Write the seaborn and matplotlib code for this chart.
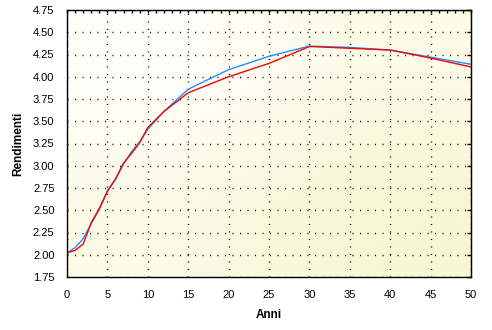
import numpy as np
import pandas as pd
import matplotlib
matplotlib.use("Agg")
import matplotlib.pyplot as plt
import seaborn as sns

# ---- data ----
anni = [0, 1, 2, 3, 4, 5, 6, 7, 8, 9, 10, 12, 15, 20, 25, 30, 35, 40, 45, 50]
rend_rossa = [2.02, 2.05, 2.12, 2.36, 2.52, 2.71, 2.85, 3.03, 3.14, 3.26, 3.43,
              3.61, 3.82, 4.00, 4.15, 4.34, 4.32, 4.30, 4.21, 4.11]
rend_blu = [2.02, 2.08, 2.18, 2.35, 2.51, 2.72, 2.85, 3.02, 3.16, 3.27, 3.41,
            3.61, 3.86, 4.08, 4.23, 4.345, 4.33, 4.30, 4.22, 4.14]
serie = ["blu", "rossa"]
colori = {"blu": "#1E90FF", "rossa": "#FF0000"}
xticks = list(range(0, 51, 5))
yticks = [1.75, 2.00, 2.25, 2.50, 2.75, 3.00, 3.25, 3.50, 3.75, 4.00, 4.25, 4.50, 4.75]

df = pd.concat([
    pd.DataFrame({"Anni": anni, "Rendimenti": rend_blu, "serie": "blu"}),
    pd.DataFrame({"Anni": anni, "Rendimenti": rend_rossa, "serie": "rossa"}),
])

sns.set_style("white")
plt.rcParams["font.family"] = ["Liberation Sans", "DejaVu Sans"]
plt.rcParams["lines.scale_dashes"] = False
plt.rcParams["text.color"] = "black"
plt.rcParams["axes.labelcolor"] = "black"
plt.rcParams["xtick.color"] = "black"
plt.rcParams["ytick.color"] = "black"

fig = plt.figure(figsize=(4.92, 3.30), dpi=100)
ax = fig.add_axes([67 / 492, 53 / 330, 404 / 492, 267 / 330])

# background gradient (top-left almost white -> bottom-right pale yellow)
tl = np.array([255, 255, 250]) / 255
br = np.array([247, 247, 212]) / 255
mid = (tl + br) / 2
grad = np.array([[tl, mid], [mid, br]])
ax.imshow(grad, extent=[0, 50, 1.75, 4.75], aspect="auto",
          interpolation="bilinear", zorder=0, origin="upper")

sns.lineplot(data=df, x="Anni", y="Rendimenti", hue="serie", hue_order=serie,
             palette=colori, linewidth=1.0, legend=False, ax=ax, zorder=3)

ax.set_xlim(0, 50)
ax.set_ylim(1.75, 4.75)
ax.set_xticks(xticks)
ax.set_yticks(yticks)
ax.set_xticks(range(0, 51), minor=True)
ax.set_yticklabels([f"{v:.2f}" for v in yticks])
ax.grid(True, which="major", color="black", linewidth=1.0,
        linestyle=(0, (0.75, 4.65)), zorder=1)
ax.set_axisbelow(False)

ax.tick_params(axis="x", which="major", direction="out", length=4.5, width=1,
               pad=5, labelsize=8, color="black", labelcolor="black")
ax.tick_params(axis="x", which="minor", direction="out", length=2.5, width=1,
               color="black")
ax.tick_params(axis="y", which="major", direction="out", length=4, width=1,
               pad=5, labelsize=8, color="black", labelcolor="black")
for sp in ax.spines.values():
    sp.set_color("black")
    sp.set_linewidth(1.0)
    sp.set_zorder(5)

# inner ticks on top and right
top = ax.secondary_xaxis("top")
top.set_xticks(range(0, 51))
top.tick_params(direction="in", length=2.5, width=1, labeltop=False, color="black")
right = ax.secondary_yaxis("right")
right.set_yticks(yticks)
right.tick_params(direction="in", length=3, width=1, labelright=False, color="black")

ax.set_xlabel("Anni", fontsize=8.5, fontweight="bold", labelpad=6, color="black")
ax.set_ylabel("Rendimenti", fontsize=8.5, fontweight="bold", labelpad=6, color="black")

fig.savefig("out.png", dpi=100, facecolor="white")
